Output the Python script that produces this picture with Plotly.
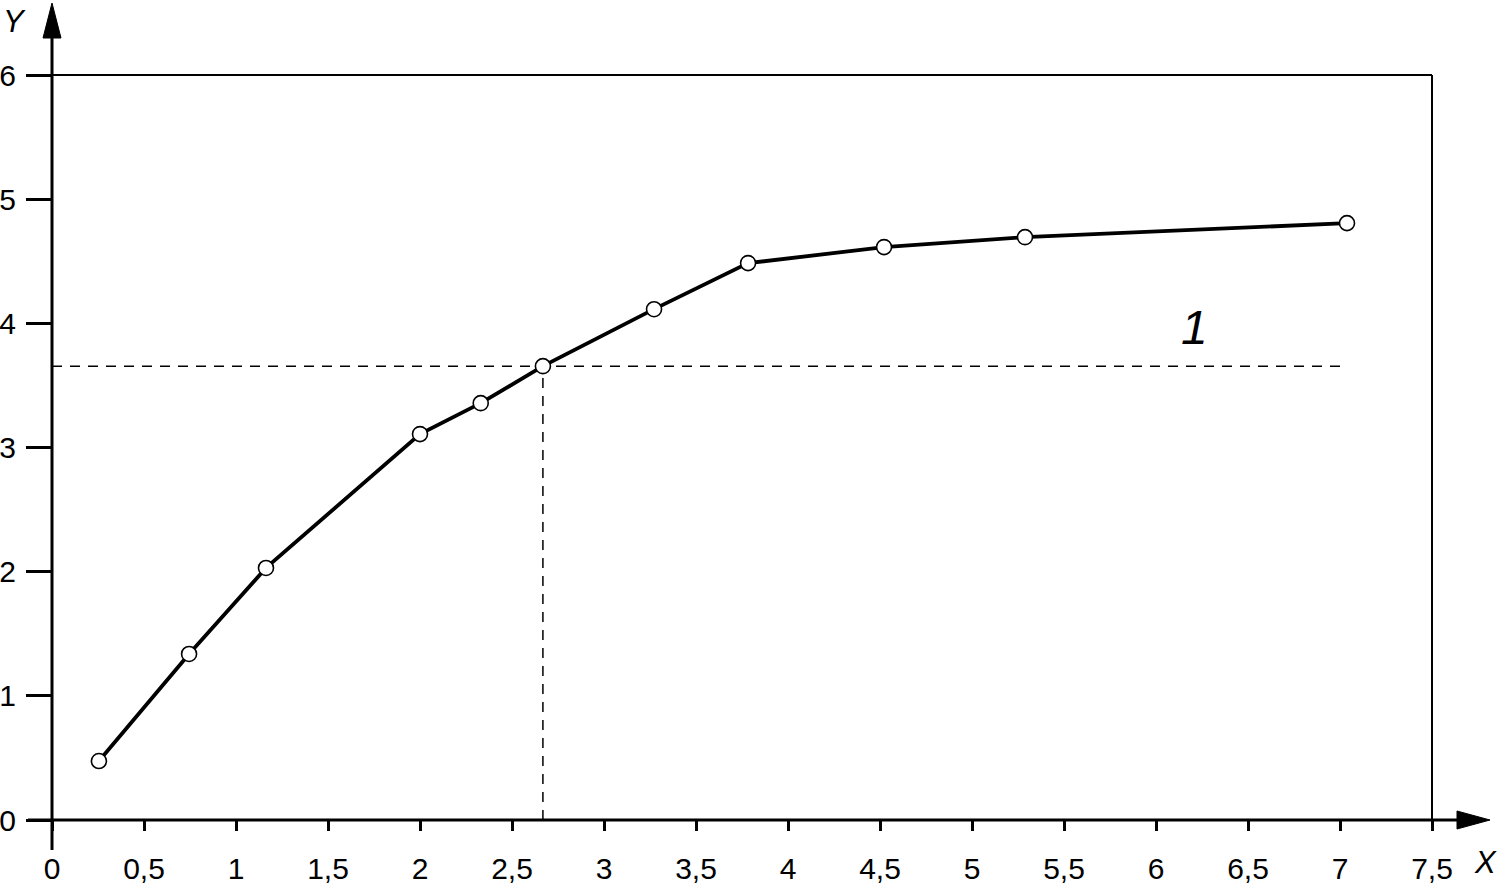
import plotly.graph_objects as go

# Data
x_vals = [0.255, 0.745, 1.163, 2.0, 2.33, 2.668, 3.272, 3.783, 4.522, 5.288, 7.038]
y_vals = [0.475, 1.337, 2.03, 3.108, 3.357, 3.655, 4.114, 4.485, 4.614, 4.694, 4.807]
ref_index = 5
x_ticks = [0, 0.5, 1, 1.5, 2, 2.5, 3, 3.5, 4, 4.5, 5, 5.5, 6, 6.5, 7, 7.5]
x_tick_text = ["0", "0,5", "1", "1,5", "2", "2,5", "3", "3,5", "4", "4,5", "5", "5,5", "6", "6,5", "7", "7,5"]
y_ticks = [0, 1, 2, 3, 4, 5, 6]
y_tick_text = ["0", "1", "2", "3", "4", "5", "6"]
curve_label = "1"
curve_label_pos = (6.21, 3.97)

W, H = 1501, 895
L, T = 52, 75
R = W - 1432
B = H - 820
pw, ph = W - L - R, H - T - B

def px(xp):
    return (xp - L) / pw

def py(yp):
    return (H - B - yp) / ph

ref_x, ref_y = x_vals[ref_index], y_vals[ref_index]

fig = go.Figure()
dash_style = dict(color="black", width=1.5, dash="10px,8px")
fig.add_trace(go.Scatter(x=[0, x_vals[-1]], y=[ref_y, ref_y], mode="lines",
                         line=dash_style, hoverinfo="skip", showlegend=False))
fig.add_trace(go.Scatter(x=[ref_x, ref_x], y=[0, ref_y], mode="lines",
                         line=dash_style, hoverinfo="skip", showlegend=False))
fig.add_trace(go.Scatter(x=x_vals, y=y_vals, mode="lines+markers",
                         line=dict(color="black", width=3.8),
                         marker=dict(symbol="circle", size=15, color="white",
                                     line=dict(color="black", width=1.6)),
                         showlegend=False, cliponaxis=False))

shapes = []
# frame top and right
shapes.append(dict(type="line", xref="paper", yref="paper", x0=0, x1=1, y0=1, y1=1,
                   line=dict(color="black", width=2)))
shapes.append(dict(type="line", xref="paper", yref="paper", x0=1, x1=1, y0=0, y1=1,
                   line=dict(color="black", width=2)))
# y axis line with arrow
shapes.append(dict(type="line", xref="paper", yref="paper", x0=0, x1=0, y0=py(850), y1=py(30),
                   line=dict(color="black", width=3)))
shapes.append(dict(type="path", xref="paper", yref="paper",
                   path=f"M {px(52)} {py(3)} L {px(43)} {py(38)} L {px(61)} {py(38)} Z",
                   fillcolor="black", line=dict(color="black", width=1)))
# x axis line with arrow
shapes.append(dict(type="line", xref="paper", yref="paper", x0=px(28), x1=px(1465), y0=0, y1=0,
                   line=dict(color="black", width=3)))
shapes.append(dict(type="path", xref="paper", yref="paper",
                   path=f"M {px(1490)} {py(820)} L {px(1457)} {py(811)} L {px(1457)} {py(829)} Z",
                   fillcolor="black", line=dict(color="black", width=1)))

annotations = [
    dict(x=curve_label_pos[0], y=curve_label_pos[1], xref="x", yref="y", text=f"<i>{curve_label}</i>",
         showarrow=False, xanchor="center", yanchor="middle",
         font=dict(size=48, color="black", family="Liberation Sans")),
    dict(x=px(1485), y=py(862), xref="paper", yref="paper", text="<i>X</i>", showarrow=False,
         xanchor="center", yanchor="middle",
         font=dict(size=31, color="black", family="Liberation Sans")),
    dict(x=px(14), y=py(22), xref="paper", yref="paper", text="<i>Y</i>", showarrow=False,
         xanchor="center", yanchor="middle",
         font=dict(size=31, color="black", family="Liberation Sans")),
]

fig.update_layout(
    width=W, height=H,
    margin=dict(l=L, r=R, t=T, b=B, pad=0, autoexpand=False),
    plot_bgcolor="white", paper_bgcolor="white",
    font=dict(family="Liberation Sans", size=30, color="black"),
    shapes=shapes, annotations=annotations,
    xaxis=dict(range=[0, 7.5], tickvals=x_ticks, ticktext=x_tick_text, ticks="outside",
               ticklen=10, tickwidth=3, tickcolor="black", showgrid=False, zeroline=False,
               showline=False, fixedrange=True, ticklabelstandoff=12, automargin=False),
    yaxis=dict(range=[0, 6], tickvals=y_ticks, ticktext=y_tick_text, ticks="outside",
               ticklen=25, tickwidth=3, tickcolor="black", showgrid=False, zeroline=False,
               showline=False, fixedrange=True, ticklabelstandoff=4, automargin=False),
)

fig.write_html("out.html", config={"displayModeBar": False},
               post_script="document.body.style.margin='0';document.body.style.overflow='hidden';")
